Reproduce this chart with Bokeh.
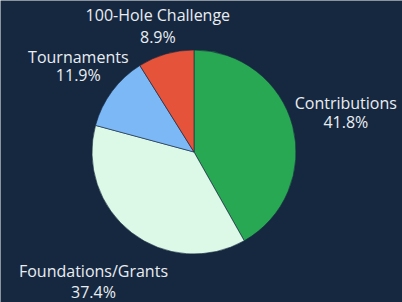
import math
from bokeh.plotting import figure
from bokeh.models import Range1d, ColumnDataSource
from bokeh.embed import file_html
from bokeh.resources import INLINE
from bokeh.core.properties import value

categories = ["Contributions", "Foundations/Grants", "Tournaments", "100-Hole Challenge"]
shares = [41.8, 37.4, 11.9, 8.9]
colors = ["#29a853", "#dcf8e7", "#7db8f6", "#e4533a"]

BG = "#16283f"
W, H = 402, 302
CX, CY, R = 193.5, H - 151.5, 102
label_r = [157, 164, 144, 131]
gap = [9.5, 10.5, 9, 11]

total = sum(shares)
starts, ends, mids = [], [], []
acc = 0.0
for s in shares:
    a0 = math.pi / 2 - 2 * math.pi * acc / total
    acc += s
    a1 = math.pi / 2 - 2 * math.pi * acc / total
    starts.append(a0)
    ends.append(a1)
    mids.append((a0 + a1) / 2)

src = ColumnDataSource(dict(start=starts, end=ends, color=colors))

p = figure(width=W, height=H, output_backend="svg", toolbar_location=None,
           x_range=Range1d(0, W), y_range=Range1d(0, H), min_border=0)
p.axis.visible = False
p.grid.visible = False
p.outline_line_color = None
p.background_fill_color = BG
p.border_fill_color = BG

p.wedge(x=CX, y=CY, radius=R, start_angle="start", end_angle="end", direction="clock",
        fill_color="color", line_color=BG, line_width=0.6, source=src)

nx, ny, px, py, names, pcts = [], [], [], [], [], []
for i, c in enumerate(categories):
    lx = CX + label_r[i] * math.cos(mids[i])
    ly = CY + label_r[i] * math.sin(mids[i])
    nx.append(lx); ny.append(ly + gap[i])
    px.append(lx); py.append(ly - gap[i])
    names.append(c)
    pcts.append(f"{shares[i] / total * 100:.1f}%")

lab = ColumnDataSource(dict(nx=nx, ny=ny, px=px, py=py, name=names, pct=pcts))
common = dict(text_font=value("Open Sans"), text_font_size="16px", text_color="#e9edf2",
              text_align="center", text_baseline="middle", source=lab)
p.text(x="nx", y="ny", text="name", **common)
p.text(x="px", y="py", text="pct", **common)

html = file_html(p, INLINE)
html = html.replace("<body>", '<body style="margin:0;overflow:hidden;background:%s">' % BG, 1)
open("out.html", "w").write(html)
